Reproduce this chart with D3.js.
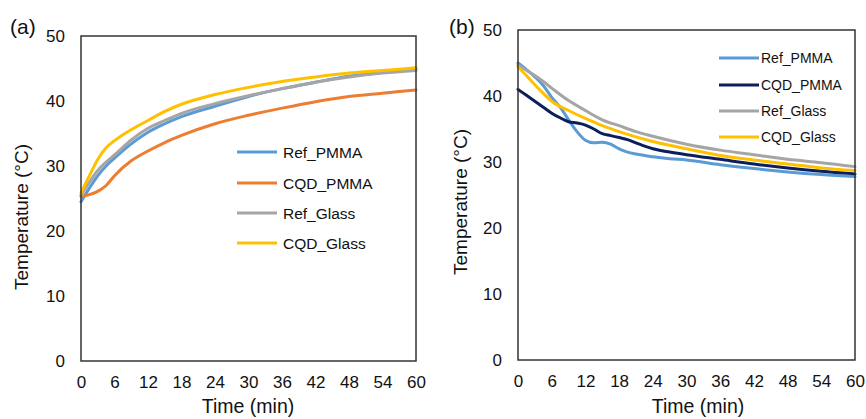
<!DOCTYPE html>
<html>
<head>
<meta charset="utf-8">
<script src="https://cdn.jsdelivr.net/npm/d3@7"></script>
<style>
  body { margin: 0; background: #fff; }
  svg { display: block; font-family: "Liberation Sans", Arial, sans-serif; }
</style>
</head>
<body>
<svg id="chart" width="866" height="419"></svg>
<script>
// ---------- Data ----------
const seriesNames = ["Ref_PMMA", "CQD_PMMA", "Ref_Glass", "CQD_Glass"];
const xTicks = [0, 6, 12, 18, 24, 30, 36, 42, 48, 54, 60];
const yTicks = [0, 10, 20, 30, 40, 50];

// Panel (a): heating
const aTime      = [0, 1.5, 3, 4.5, 6, 9, 12, 15, 18, 24, 30, 36, 42, 48, 54, 60];
const aRefPMMA   = [24.5, 26.6, 28.5, 30.0, 31.2, 33.4, 35.2, 36.5, 37.6, 39.2, 40.7, 41.9, 42.9, 43.8, 44.4, 44.9];
const aCQDPMMA   = [25.3, 25.6, 26.1, 27.0, 28.5, 30.8, 32.3, 33.6, 34.7, 36.5, 37.8, 38.9, 39.9, 40.7, 41.2, 41.7];
const aRefGlass  = [25.5, 27.5, 29.3, 30.6, 31.7, 34.0, 35.8, 37.0, 38.1, 39.6, 40.8, 41.9, 42.9, 43.7, 44.3, 44.7];
const aCQDGlass  = [25.8, 28.5, 31.0, 32.8, 33.9, 35.6, 37.0, 38.4, 39.5, 41.0, 42.1, 43.0, 43.7, 44.3, 44.7, 45.1];

// Panel (b): cooling
const bTimeFine   = [0, 1.5, 3, 4.5, 6, 7.5, 9, 10.5, 12, 13.5, 15, 16.5, 18, 19.5, 21, 24, 27, 30, 36, 42, 48, 54, 60];
const bRefPMMA    = [45.0, 44.0, 42.9, 41.6, 39.8, 38.3, 36.4, 34.6, 33.3, 32.9, 33.0, 32.7, 32.0, 31.5, 31.2, 30.8, 30.5, 30.3, 29.6, 29.0, 28.5, 28.1, 27.8];
const bCQDPMMA    = [41.0, 40.1, 39.2, 38.3, 37.4, 36.7, 36.1, 35.9, 35.6, 35.0, 34.3, 34.0, 33.7, 33.4, 32.9, 32.0, 31.5, 31.1, 30.4, 29.7, 29.1, 28.6, 28.2];
const bTimeCoarse = [0, 1.5, 3, 4.5, 6, 9, 12, 15, 18, 21, 24, 30, 36, 42, 48, 54, 60];
const bRefGlass   = [44.7, 43.9, 43.1, 42.2, 41.2, 39.3, 37.8, 36.4, 35.5, 34.6, 33.9, 32.7, 31.8, 31.1, 30.4, 29.9, 29.3];
const bCQDGlass   = [44.4, 43.1, 41.7, 40.4, 39.2, 37.8, 36.6, 35.5, 34.6, 33.8, 33.1, 32.0, 31.0, 30.3, 29.7, 29.1, 28.7];

const colorsA = ["#5B9BD5", "#ED7D31", "#A5A5A5", "#FFC000"];
const colorsB = ["#5B9BD5", "#0B1F5C", "#A5A5A5", "#FFC000"];

const svg = d3.select("#chart");

function panel(cfg) {
  const x = d3.scaleLinear().domain([0, 60]).range([cfg.left, cfg.right]);
  const y = d3.scaleLinear().domain([0, 50]).range([cfg.bottom, cfg.top]);
  const g = svg.append("g");

  // y tick labels
  const yAxis = d3.axisLeft(y).tickValues(yTicks).tickSize(0).tickPadding(16);
  const ya = g.append("g").attr("transform", `translate(${cfg.left},0)`).call(yAxis);
  ya.select(".domain").remove();
  ya.selectAll("text").attr("font-size", 17).attr("fill", "#111").attr("font-family", "Liberation Sans, Arial, sans-serif");

  // x tick labels
  const xAxis = d3.axisBottom(x).tickValues(xTicks).tickSize(0).tickPadding(15);
  const xa = g.append("g").attr("transform", `translate(0,${cfg.bottom})`).call(xAxis);
  xa.select(".domain").remove();
  xa.selectAll("text").attr("font-size", 17).attr("fill", "#111").attr("font-family", "Liberation Sans, Arial, sans-serif");

  // lines
  const line = d3.line().x(d => x(d[0])).y(d => y(d[1])).curve(d3.curveMonotoneX);
  cfg.series.forEach((s, i) => {
    const pts = s.t.map((t, k) => [t, s.v[k]]);
    g.append("path").datum(pts).attr("d", line)
      .attr("fill", "none").attr("stroke", cfg.colors[i]).attr("stroke-width", 3)
      .attr("stroke-linejoin", "round").attr("stroke-linecap", "round");
  });

  // frame
  g.append("rect").attr("x", cfg.left).attr("y", cfg.top)
    .attr("width", cfg.right - cfg.left).attr("height", cfg.bottom - cfg.top)
    .attr("fill", "none").attr("stroke", "#333").attr("stroke-width", 1.5);

  // legend
  seriesNames.forEach((name, i) => {
    const ly = cfg.legY[i];
    g.append("line").attr("x1", cfg.legX1).attr("x2", cfg.legX2).attr("y1", ly).attr("y2", ly)
      .attr("stroke", cfg.colors[i]).attr("stroke-width", 3);
    g.append("text").attr("x", cfg.legTx).attr("y", ly).attr("dy", "0.36em")
      .attr("font-size", cfg.legFont).attr("fill", "#111").text(name);
  });

  // titles
  g.append("text").attr("x", cfg.panelX).attr("y", 34).attr("font-size", 21).attr("fill", "#111").text(cfg.label);
  g.append("text").attr("transform", `translate(${cfg.yTitleX},${cfg.yTitleY}) rotate(-90)`)
    .attr("text-anchor", "middle").attr("font-size", 19).attr("fill", "#111").text("Temperature (°C)");
  g.append("text").attr("x", cfg.xTitleX).attr("y", 413).attr("text-anchor", "middle")
    .attr("font-size", 19.5).attr("fill", "#111").text("Time (min)");
}

panel({
  left: 81, right: 416, top: 36, bottom: 361, colors: colorsA, label: "(a)", panelX: 10,
  series: [
    { t: aTime, v: aRefPMMA }, { t: aTime, v: aCQDPMMA },
    { t: aTime, v: aRefGlass }, { t: aTime, v: aCQDGlass }
  ],
  legX1: 237, legX2: 277, legTx: 283, legY: [152, 183, 213, 243], legFont: 15.5,
  yTitleX: 28, yTitleY: 217, xTitleX: 248
});

panel({
  left: 518, right: 855, top: 30, bottom: 360, colors: colorsB, label: "(b)", panelX: 449,
  series: [
    { t: bTimeFine, v: bRefPMMA }, { t: bTimeFine, v: bCQDPMMA },
    { t: bTimeCoarse, v: bRefGlass }, { t: bTimeCoarse, v: bCQDGlass }
  ],
  legX1: 719, legX2: 759, legTx: 761, legY: [58, 85, 111, 137], legFont: 14,
  yTitleX: 467, yTitleY: 202, xTitleX: 698
});
</script>
</body>
</html>
